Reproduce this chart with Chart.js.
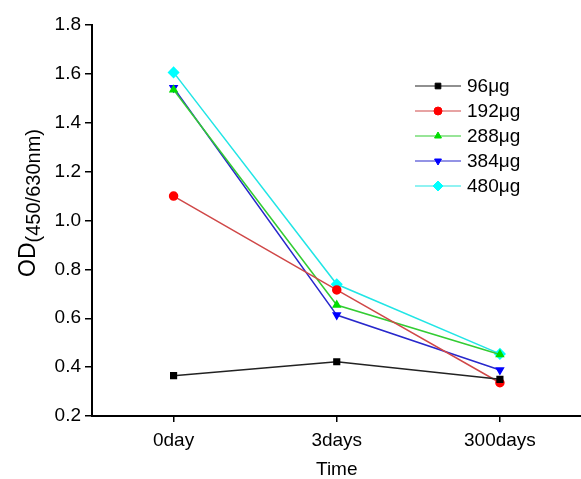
<!DOCTYPE html>
<html>
<head>
<meta charset="utf-8">
<script src="https://cdn.jsdelivr.net/npm/chart.js@4"></script>
<style>
  html, body { margin: 0; padding: 0; background: #fff; overflow: hidden; }
  #wrap { width: 581px; height: 479px; overflow: hidden; }
</style>
</head>
<body>
<div id="wrap"><canvas id="chart" width="588" height="479"></canvas></div>
<script>
const categories = ['0day', '3days', '300days'];
const seriesNames = ['96μg', '192μg', '288μg', '384μg', '480μg'];
const od96 = [0.365, 0.422, 0.350];
const od192 = [1.100, 0.716, 0.336];
const od288 = [1.535, 0.654, 0.452];
const od384 = [1.543, 0.613, 0.388];
const od480 = [1.606, 0.739, 0.454];
const yTicks = [0.2, 0.4, 0.6, 0.8, 1.0, 1.2, 1.4, 1.6, 1.8];

const FONT = 'Liberation Sans, Arial, sans-serif';

const styles = [
    { line: '#222222', point: '#000000', shape: 'rect', rot: 0 },
    { line: '#d04848', point: '#ff0000', shape: 'circle', rot: 0 },
    { line: '#33cc33', point: '#00dd00', shape: 'triangle', rot: 0 },
    { line: '#2828cc', point: '#0000ff', shape: 'triangle', rot: 180 },
    { line: '#22e5e5', point: '#00ffff', shape: 'rectRot', rot: 0 },
];

const allSeries = [od96, od192, od288, od384, od480];
const datasets = allSeries.map((vals, i) => ({
    label: seriesNames[i],
    data: vals,
    borderColor: styles[i].line,
    backgroundColor: styles[i].point,
    pointBorderColor: styles[i].point,
    pointBackgroundColor: styles[i].point,
    pointStyle: styles[i].shape,
    pointRotation: styles[i].rot,
    pointRadius: styles[i].shape === 'rectRot' ? 5 : 4,
    borderWidth: 1.5,
    tension: 0,
}));

// legend drawn as line - marker - line, like the original figure
const legendPlugin = {
    id: 'lineLegend',
    afterDraw(chart) {
        const ctx = chart.ctx;
        ctx.save();
        chart.data.datasets.forEach((ds, i) => {
            const y = 86 + i * 25;
            ctx.strokeStyle = ds.borderColor;
            ctx.lineWidth = 1.2;
            ctx.beginPath();
            ctx.moveTo(415, y);
            ctx.lineTo(461, y);
            ctx.stroke();
            ctx.fillStyle = ds.pointBackgroundColor;
            ctx.strokeStyle = ds.pointBorderColor;
            ctx.lineWidth = 1;
            Chart.helpers.drawPoint(ctx, {
                pointStyle: ds.pointStyle,
                rotation: ds.pointRotation,
                radius: ds.pointStyle === 'rectRot' ? 5 : 4,
                borderWidth: 1,
            }, 438, y);
            ctx.fillStyle = '#000';
            ctx.font = '19px ' + FONT;
            ctx.textBaseline = 'middle';
            ctx.fillText(ds.label, 467, y + 1);
        });
        ctx.restore();
    }
};

// y title with subscript: OD(450/630nm)
const yTitlePlugin = {
    id: 'yTitle',
    afterDraw(chart) {
        const ctx = chart.ctx;
        ctx.save();
        ctx.translate(35, 203);
        ctx.rotate(-Math.PI / 2);
        ctx.fillStyle = '#000';
        ctx.textBaseline = 'alphabetic';
        const main = 'OD';
        const sub = '(450/630nm)';
        ctx.font = '23px ' + FONT;
        const wMain = ctx.measureText(main).width;
        ctx.font = '20px ' + FONT;
        const wSub = ctx.measureText(sub).width;
        const start = -(wMain + wSub) / 2;
        ctx.font = '23px ' + FONT;
        ctx.fillText(main, start, 0);
        ctx.font = '20px ' + FONT;
        ctx.fillText(sub, start + wMain, 5);
        ctx.restore();
    }
};

new Chart(document.getElementById('chart'), {
    type: 'line',
    data: { labels: categories, datasets: datasets },
    options: {
        responsive: false,
        animation: false,
        layout: { padding: { top: 25, right: 0, left: 0, bottom: 0 } },
        plugins: {
            legend: { display: false },
            tooltip: { enabled: false },
        },
        scales: {
            x: {
                offset: true,
                grid: { display: true, drawOnChartArea: false, offset: false, tickLength: 6, color: '#000', lineWidth: 1.5 },
                border: { display: true, color: '#000', width: 2 },
                ticks: { color: '#000', font: { family: FONT, size: 19 }, padding: 7, maxRotation: 0 },
                title: { display: true, text: 'Time', color: '#000', font: { family: FONT, size: 19 }, padding: { top: 0, bottom: -2 } },
                afterFit(scale) { scale.height = 63; },
            },
            y: {
                min: 0.2,
                max: 1.8,
                afterBuildTicks(scale) { scale.ticks = yTicks.map(v => ({ value: v })); },
                grid: { display: true, drawOnChartArea: false, tickLength: 7, color: '#000', lineWidth: 1.5 },
                border: { display: true, color: '#000', width: 2 },
                ticks: {
                    color: '#000',
                    font: { family: FONT, size: 19 },
                    padding: 4,
                    callback: (v) => Number(v).toFixed(1),
                },
                afterFit(scale) { scale.width = 92; },
            },
        },
    },
    plugins: [legendPlugin, yTitlePlugin],
});
</script>
</body>
</html>
